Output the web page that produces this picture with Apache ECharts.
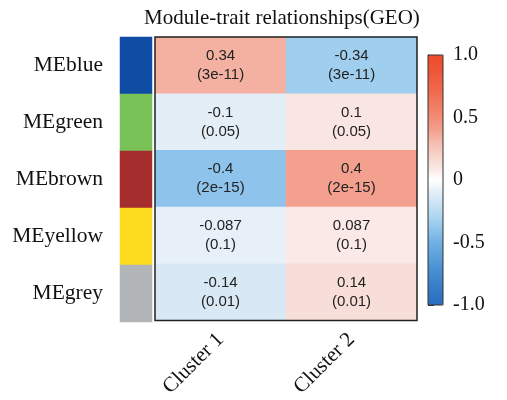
<!DOCTYPE html>
<html>
<head>
<meta charset="utf-8">
<script src="https://cdn.jsdelivr.net/npm/echarts@6/dist/echarts.min.js"></script>
<style>
  html, body { margin: 0; padding: 0; background: #fff; }
  #chart { width: 507px; height: 400px; }
</style>
</head>
<body>
<div id="chart"></div>
<script>
// Module eigengenes (rows) and trait clusters (columns)
var modules = ['MEblue', 'MEgreen', 'MEbrown', 'MEyellow', 'MEgrey'];
var moduleColors = ['#0f4ca3', '#78c257', '#a62d2d', '#fddb1e', '#b2b5b8'];
var clusters = ['Cluster 1', 'Cluster 2'];

// Correlation of each module with each cluster, and the p-value labels
var corCluster1 = [0.34, -0.1, -0.4, -0.087, -0.14];
var corCluster2 = [-0.34, 0.1, 0.4, 0.087, 0.14];
var pCluster1 = ['3e-11', '0.05', '2e-15', '0.1', '0.01'];
var pCluster2 = ['3e-11', '0.05', '2e-15', '0.1', '0.01'];

// Colour scale ticks
var scaleTicks = [-1, -0.5, 0, 0.5, 1];

// Blue-white-red ramp, evenly spaced from -1 to 1
var ramp = ['#2a6cc0', '#3378c6', '#3e84cc', '#4c92d4', '#5ea1dc', '#70b0e3',
            '#8ec4ec', '#abd5f0', '#c8e2f3', '#e3eef7', '#ffffff',
            '#f9e6e2', '#f7d2c9', '#f5bdb0', '#f3a08e', '#f28c74',
            '#f17c62', '#f06c50', '#ef5e40', '#ee5335', '#ee4a2a'];

var cells = [];
var cols = [corCluster1, corCluster2];
var pcols = [pCluster1, pCluster2];
for (var c = 0; c < cols.length; c++) {
  for (var r = 0; r < modules.length; r++) {
    cells.push({ value: [c, r, cols[c][r]], p: pcols[c][r] });
  }
}
var moduleCells = modules.map(function (m, i) {
  return { value: [0, i, i], itemStyle: { color: moduleColors[i] } };
});

var serif = 'Liberation Serif';
var sans = 'Liberation Sans';

var chart = echarts.init(document.getElementById('chart'), null, { renderer: 'canvas' });
chart.setOption({
  animation: false,
  backgroundColor: '#fff',
  title: {
    text: 'Module-trait relationships(GEO)',
    left: 139, top: 3,
    textStyle: { fontFamily: serif, fontSize: 21, fontWeight: 'normal', color: '#111' }
  },
  grid: [
    { left: 155, top: 37, width: 262, height: 285, show: true, z: 10,
      borderColor: '#222', borderWidth: 1.5, backgroundColor: 'transparent' },
    { left: 120, top: 37, width: 32, height: 285 },
    { left: 428, top: 55, width: 15, height: 250, show: true, z: 10,
      borderColor: '#333', borderWidth: 1, backgroundColor: 'transparent' }
  ],
  xAxis: [
    { gridIndex: 0, type: 'category', data: clusters,
      axisLine: { show: false }, axisTick: { show: false }, splitLine: { show: false },
      axisLabel: { rotate: 45, margin: 16, fontFamily: serif, fontSize: 21, color: '#111' } },
    { gridIndex: 1, type: 'category', data: ['module'], show: false },
    { gridIndex: 2, type: 'value', show: false }
  ],
  yAxis: [
    { gridIndex: 0, type: 'category', data: modules, inverse: true, show: false },
    { gridIndex: 1, type: 'category', data: modules, inverse: true,
      axisLine: { show: false }, axisTick: { show: false }, splitLine: { show: false },
      axisLabel: { margin: 17, fontFamily: serif, fontSize: 21.5, color: '#111' } },
    { gridIndex: 2, type: 'value', min: -1, max: 1, interval: 0.5, position: 'right',
      axisLine: { show: true, lineStyle: { color: '#333', width: 1 } },
      axisTick: { show: true, length: 6, lineStyle: { color: '#333' } },
      splitLine: { show: false },
      axisLabel: { margin: 10, fontFamily: serif, fontSize: 20, color: '#111',
        formatter: function (v) { return v === 0 ? '0' : v.toFixed(1); } } }
  ],
  visualMap: {
    type: 'continuous', min: -1, max: 1, seriesIndex: 0,
    calculable: false, hoverLink: false, realtime: false,
    orient: 'vertical', left: 428, top: 55, padding: 0,
    itemWidth: 15, itemHeight: 250, text: null, showLabel: false,
    inRange: { color: ramp }
  },
  series: [
    {
      type: 'heatmap', xAxisIndex: 0, yAxisIndex: 0, data: cells,
      label: {
        show: true, fontFamily: sans, fontSize: 15, color: '#222', lineHeight: 19,
        formatter: function (p) { return p.value[2] + '\n(' + p.data.p + ')'; }
      },
      emphasis: { disabled: true }
    },
    {
      type: 'heatmap', xAxisIndex: 1, yAxisIndex: 1, data: moduleCells,
      emphasis: { disabled: true }
    }
  ]
});
</script>
</body>
</html>
